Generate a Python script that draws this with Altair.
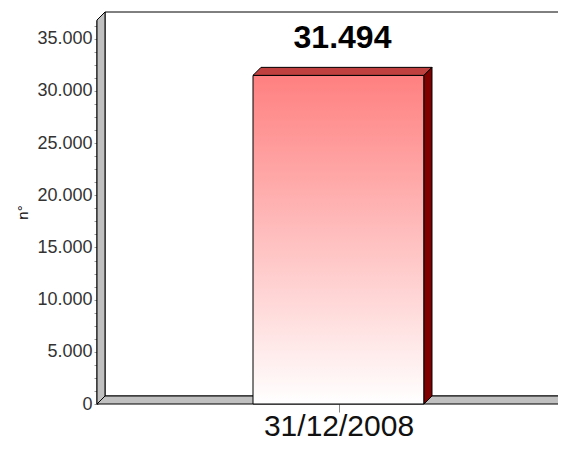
import json
import altair as alt
import pandas as pd

# ---- data ----
categories = ["31/12/2008"]
values = [31494]
y_tick_values = [i * 1250 for i in range(0, 30)]   # minor ticks every 1.250, labels every 5.000
Y_MAX = 36800

# ---- geometry / style ----
PLOT_W, PLOT_H = 461, 384
FULL_W = 483            # width of the (cropped) original plot
DEPTH = 8               # 3D depth in px
BAR_FRAC = 0.354        # bar width as a fraction of the band

x_min = -0.5
x_max = x_min + PLOT_W / FULL_W
dx = DEPTH * (1.0 / FULL_W)
dy = DEPTH * Y_MAX / PLOT_H
hw = BAR_FRAC / 2
x_end = x_max + 3 * dx

xs = alt.Scale(domain=[x_min, x_max], nice=False, zero=False)
ys = alt.Scale(domain=[0, Y_MAX], nice=False, zero=False)

cat_js = json.dumps(categories)
x_axis = alt.Axis(values=list(range(len(categories))), title=None, domain=False, grid=False,
                  tickSize=8, tickColor="#888888", tickWidth=1,
                  labelExpr=f"{cat_js}[datum.value]", labelFontSize=30, labelFont="Liberation Sans",
                  labelColor="#111111", labelBaseline="alphabetic", labelPadding=23)
y_axis = alt.Axis(values=y_tick_values, title="n°", grid=False,
                  domainColor="black", domainWidth=2,
                  tickSize=3, tickColor="#999999", labelOverlap=False,
                  labelExpr="datum.value % 5000 === 0 ? replace(format(datum.value, ','), ',', '.') : ''",
                  labelFont="Liberation Sans", labelFontSize=18, labelColor="#333333",
                  labelPadding=2, titleFont="Liberation Sans", titleFontSize=15,
                  titleFontWeight="normal", titleColor="black", titleAngle=-90,
                  titleX=-70, titleY=PLOT_H / 2, titleAlign="center", titleBaseline="alphabetic")


def X(field):
    return alt.X(field, type="quantitative", scale=xs, axis=x_axis)


def Y(field):
    return alt.Y(field, type="quantitative", scale=ys, axis=y_axis)


# back wall
back = pd.DataFrame({"x": [x_min + dx], "x2": [x_end + dx], "y": [dy], "y2": [Y_MAX + dy]})
back_l = alt.Chart(back).mark_rect(fill="white", stroke="black", strokeWidth=1).encode(
    x=X("x"), x2="x2", y=Y("y"), y2="y2")

# left wall
lw = pd.DataFrame({"x": [x_min, x_min + dx], "top": [Y_MAX, Y_MAX + dy], "bot": [0, dy]})
lw_l = alt.Chart(lw).mark_area(fill="#c0c0c0", stroke="black", strokeWidth=1).encode(
    x=X("x"), y=Y("top"), y2="bot")

# floor
fl = pd.DataFrame({"y": [0, dy], "xl": [x_min, x_min + dx], "xr": [x_end, x_end + dx]})
fl_l = alt.Chart(fl).mark_area(orient="horizontal", fill="#c0c0c0", stroke="black", strokeWidth=1).encode(
    y=Y("y"), x=X("xl"), x2="xr")

# bars
rows_front, rows_top, rows_side, rows_lab = [], [], [], []
for i, (c, v) in enumerate(zip(categories, values)):
    rows_front.append({"x": i - hw, "x2": i + hw, "y": v, "y2": 0})
    rows_top += [{"y": v, "xl": i - hw, "xr": i + hw, "k": i},
                 {"y": v + dy, "xl": i - hw + dx, "xr": i + hw + dx, "k": i}]
    rows_side += [{"x": i + hw, "top": v, "bot": 0, "k": i},
                  {"x": i + hw + dx, "top": v + dy, "bot": dy, "k": i}]
    rows_lab.append({"x": i + dx / 2, "y": v, "v": v})

front_l = alt.Chart(pd.DataFrame(rows_front)).mark_rect(
    fill=alt.Gradient(gradient="linear",
                      stops=[alt.GradientStop(color="#ff8080", offset=0),
                             alt.GradientStop(color="#ffffff", offset=1)],
                      x1=0, x2=0, y1=0, y2=1),
    stroke="black", strokeWidth=1).encode(x=X("x"), x2="x2", y=Y("y"), y2="y2")

top_l = alt.Chart(pd.DataFrame(rows_top)).mark_area(
    orient="horizontal", fill="#c04040", stroke="black", strokeWidth=1).encode(
    y=Y("y"), x=X("xl"), x2="xr", detail="k:N")

side_l = alt.Chart(pd.DataFrame(rows_side)).mark_area(
    fill="#800000", stroke="black", strokeWidth=1).encode(
    x=X("x"), y=Y("top"), y2="bot", detail="k:N")

lab_l = alt.Chart(pd.DataFrame(rows_lab)).transform_calculate(
    t="replace(format(datum.v, ','), ',', '.')").mark_text(
    font="Liberation Sans", fontSize=32, fontWeight="bold", color="black",
    baseline="alphabetic", align="center", dy=-27).encode(
    x=X("x"), y=Y("y"), text="t:N")

chart = alt.layer(back_l, lw_l, fl_l, front_l, top_l, side_l, lab_l).properties(
    width=PLOT_W, height=PLOT_H,
    autosize=alt.AutoSizeParams(type="none"),
    padding={"left": 89, "top": 12, "right": 0, "bottom": 38},
    background="white",
).configure_view(stroke=None)

chart.save("out.html", embed_options={"renderer": "svg", "actions": False})
